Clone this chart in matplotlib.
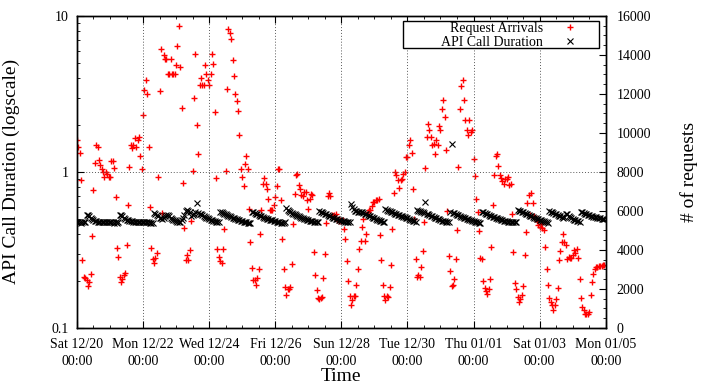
import pandas as pd
import matplotlib
matplotlib.use('Agg')
import matplotlib.pyplot as plt
import matplotlib.dates as mdates
from matplotlib.patches import Rectangle
from matplotlib.ticker import FixedLocator, MultipleLocator, LogLocator, NullFormatter

plt.rcParams['font.family'] = ['Liberation Serif', 'DejaVu Serif']

# hourly request arrivals, one list per day (Sat 12/20 ... Sun 01/04)
req_d00 = [9640, 9280, 8970, 7590, 3490, 2620, 2560, 2460, 2150, 2360, 2770, 4740, 7080, 8460, 9380, 9280, 8630, 8380, 8170, 8000, 7740, 8000, 7900, 7740]
req_d01 = [7740, 8580, 8560, 8190, 6730, 4100, 3660, 2620, 2370, 2490, 2720, 2820, 4260, 6310, 8270, 9380, 9230, 9380, 9740, 9280, 9640, 9790, 8840, 8140]
req_d02 = [10920, 12200, 12720, 12000, 9280, 6200, 4100, 3510, 3310, 3590, 3860, 7740, 12170, 14300, 5900, 14000, 13800, 13800, 13030, 13030, 13780, 13030, 13030, 13030]
req_d03 = [13490, 14460, 15490, 13400, 11280, 7430, 5140, 3490, 3740, 3500, 4000, 5470, 8070, 11810, 14050, 10390, 8940, 12440, 12800, 12460, 12460, 13470, 13030, 12700]
req_d04 = [12480, 13030, 14050, 13550, 11080, 7710, 4050, 3660, 3440, 3330, 4050, 5080, 8040, 12270, 15320, 15100, 14800, 13760, 12910, 12000, 11630, 11150, 9910, 8170]
req_d05 = [7740, 7280, 8430, 8820, 8170, 6120, 4410, 3050, 2460, 2460, 2200, 2560, 3040, 4840, 6040, 7400, 7690, 7400, 7140, 6600, 6040, 6040, 6040, 6320]
req_d06 = [6720, 7280, 8170, 8170, 6550, 4580, 3010, 2100, 1680, 1980, 1980, 2120, 3300, 5350, 6890, 7830, 7910, 7330, 7140, 6840, 6770, 6970, 6970, 6550]
req_d07 = [6120, 6600, 6890, 6800, 3900, 2700, 1930, 1540, 1480, 1540, 1600, 2560, 3780, 5400, 6770, 6900, 6770, 5800, 5760, 5800, 5850, 5540, 5490, 5540]
req_d08 = [5490, 5540, 5090, 4550, 3420, 2410, 1640, 1190, 1430, 1640, 1640, 2220, 3010, 4070, 4450, 5180, 5610, 4450, 4840, 5950, 6050, 6050, 6260, 6460]
req_d09 = [6460, 6560, 6560, 6600, 4790, 3470, 2190, 1640, 1430, 1640, 1600, 2100, 3220, 5060, 6920, 8000, 7830, 7570, 7180, 7590, 7660, 7910, 8000, 8770]
req_d10 = [8770, 9370, 9660, 8970, 7140, 5610, 3520, 2620, 2700, 2620, 3130, 3930, 5440, 8200, 9800, 10480, 10140, 9800, 9370, 9450, 8940, 9630, 9370, 10360]
req_d11 = [10140, 11210, 11680, 10820, 9110, 5980, 3690, 2910, 2150, 2220, 2530, 3550, 5010, 8260, 11250, 12410, 12700, 11680, 10650, 10140, 9880, 10650, 10050, 10140]
req_d12 = [8680, 7780, 6630, 5960, 4960, 3590, 3540, 2410, 2050, 1900, 1750, 2000, 2500, 4150, 6320, 7830, 8800, 8900, 8310, 7830, 7690, 7520, 7400, 7660]
req_d13 = [7660, 7740, 7320, 7400, 5860, 3880, 2300, 2000, 1600, 1330, 1470, 1710, 2150, 3730, 4920, 6430, 6840, 5780, 6910, 6430, 5740, 5610, 5470, 5260]
req_d14 = [5180, 5330, 5100, 5010, 4150, 3010, 2190, 1540, 1330, 1160, 910, 1160, 1470, 2050, 3470, 3930, 4410, 4840, 4410, 4240, 3550, 3640, 3590, 3590]
req_d15 = [3730, 3980, 3860, 4070, 3590, 2530, 1540, 1080, 900, 730, 730, 730, 820, 1680, 2360, 2790, 3040, 3130, 3130, 3180, 3180, 3180, 3250, 3250]

# hourly API call duration (s), one list per day
dur_d00 = [0.478, 0.476, 0.475, 0.474, 0.476, 0.475, 0.477, 0.533, 0.53, 0.52, 0.51, 0.50, 0.492, 0.486, 0.482, 0.48, 0.479, 0.478, 0.478, 0.477, 0.477, 0.476, 0.476, 0.475]
dur_d01 = [0.476, 0.475, 0.476, 0.474, 0.475, 0.474, 0.476, 0.53, 0.527, 0.52, 0.51, 0.50, 0.495, 0.49, 0.485, 0.483, 0.482, 0.481, 0.48, 0.48, 0.479, 0.478, 0.478, 0.477]
dur_d02 = [0.477, 0.476, 0.476, 0.475, 0.475, 0.474, 0.474, 0.473, 0.545, 0.54, 0.53, 0.52, 0.51, 0.505, 0.50, 0.51, 0.52, 0.53, 0.53, 0.52, 0.51, 0.50, 0.495, 0.49]
dur_d03 = [0.485, 0.48, 0.478, 0.48, 0.49, 0.51, 0.53, 0.565, 0.57, 0.565, 0.55, 0.52, 0.53, 0.54, 0.55, 0.63, 0.545, 0.54, 0.535, 0.53, 0.52, 0.515, 0.51, 0.505]
dur_d04 = [0.50, 0.495, 0.49, 0.487, 0.483, 0.48, 0.477, 0.476, 0.553, 0.55, 0.545, 0.54, 0.535, 0.53, 0.525, 0.52, 0.515, 0.51, 0.505, 0.50, 0.497, 0.494, 0.49, 0.487]
dur_d05 = [0.484, 0.481, 0.478, 0.476, 0.474, 0.473, 0.472, 0.553, 0.55, 0.545, 0.54, 0.535, 0.53, 0.525, 0.52, 0.515, 0.51, 0.506, 0.502, 0.498, 0.495, 0.492, 0.489, 0.486]
dur_d06 = [0.483, 0.48, 0.478, 0.476, 0.474, 0.473, 0.472, 0.48, 0.59, 0.57, 0.56, 0.55, 0.545, 0.54, 0.535, 0.53, 0.525, 0.52, 0.515, 0.51, 0.505, 0.50, 0.497, 0.494]
dur_d07 = [0.491, 0.488, 0.485, 0.482, 0.48, 0.478, 0.477, 0.476, 0.56, 0.556, 0.55, 0.545, 0.54, 0.535, 0.53, 0.525, 0.52, 0.515, 0.51, 0.506, 0.502, 0.498, 0.494, 0.49]
dur_d08 = [0.487, 0.484, 0.482, 0.48, 0.478, 0.477, 0.476, 0.62, 0.60, 0.575, 0.565, 0.56, 0.555, 0.55, 0.555, 0.55, 0.545, 0.54, 0.535, 0.53, 0.525, 0.52, 0.515, 0.51]
dur_d09 = [0.505, 0.50, 0.495, 0.49, 0.486, 0.482, 0.479, 0.477, 0.577, 0.57, 0.565, 0.56, 0.555, 0.55, 0.545, 0.54, 0.535, 0.53, 0.527, 0.524, 0.52, 0.517, 0.514, 0.51]
dur_d10 = [0.505, 0.50, 0.495, 0.49, 0.486, 0.482, 0.479, 0.569, 0.565, 0.56, 0.555, 0.55, 0.545, 0.64, 0.54, 0.535, 0.53, 0.525, 0.52, 0.515, 0.51, 0.505, 0.50, 0.496]
dur_d11 = [0.492, 0.488, 0.485, 0.482, 0.48, 0.477, 0.476, 0.553, 1.5, 0.548, 0.543, 0.538, 0.533, 0.528, 0.523, 0.518, 0.514, 0.51, 0.506, 0.502, 0.498, 0.494, 0.49, 0.487]
dur_d12 = [0.484, 0.481, 0.478, 0.476, 0.474, 0.473, 0.553, 0.55, 0.545, 0.54, 0.535, 0.53, 0.525, 0.52, 0.516, 0.512, 0.508, 0.504, 0.50, 0.497, 0.494, 0.491, 0.488, 0.485]
dur_d13 = [0.483, 0.481, 0.479, 0.478, 0.477, 0.476, 0.475, 0.476, 0.569, 0.565, 0.56, 0.555, 0.55, 0.545, 0.54, 0.535, 0.53, 0.525, 0.52, 0.515, 0.51, 0.506, 0.502, 0.498]
dur_d14 = [0.494, 0.49, 0.487, 0.484, 0.481, 0.478, 0.473, 0.56, 0.555, 0.55, 0.545, 0.54, 0.535, 0.53, 0.525, 0.52, 0.515, 0.51, 0.515, 0.54, 0.535, 0.525, 0.515, 0.505]
dur_d15 = [0.50, 0.495, 0.49, 0.486, 0.482, 0.478, 0.553, 0.55, 0.545, 0.54, 0.535, 0.53, 0.528, 0.525, 0.52, 0.517, 0.514, 0.511, 0.508, 0.505, 0.503, 0.50, 0.50, 0.498]

start = pd.Timestamp('2014-12-20 00:00')
end = pd.Timestamp('2015-01-05 00:00')

requests = (req_d00 + req_d01 + req_d02 + req_d03 + req_d04 + req_d05 + req_d06 + req_d07 +
            req_d08 + req_d09 + req_d10 + req_d11 + req_d12 + req_d13 + req_d14 + req_d15)
duration = (dur_d00 + dur_d01 + dur_d02 + dur_d03 + dur_d04 + dur_d05 + dur_d06 + dur_d07 +
            dur_d08 + dur_d09 + dur_d10 + dur_d11 + dur_d12 + dur_d13 + dur_d14 + dur_d15)
t_req = pd.date_range(start, periods=len(requests), freq='h')
t_dur = pd.date_range(start, periods=len(duration), freq='h')

fig = plt.figure(figsize=(7.06, 3.84), dpi=100)
ax = fig.add_axes([0.109, 0.146, 0.749, 0.8125])
ax2 = ax.twinx()

ax2.plot(t_req, requests, '+', color='red', ms=5, mew=1.0, label='Request Arrivals')
ax.plot(t_dur, duration, 'x', color='black', ms=4, mew=0.8, label='API Call Duration')
ax.set_zorder(ax2.get_zorder() + 1)
ax.patch.set_visible(False)

ax.set_yscale('log')
ax.set_ylim(0.1, 10)
ax2.set_ylim(0, 16000)
ax.set_xlim(start, end)

ax.xaxis.set_major_locator(FixedLocator(mdates.date2num(pd.date_range(start, end, freq='2D'))))
ax.xaxis.set_minor_locator(FixedLocator(mdates.date2num(pd.date_range(start, end, freq='12h'))))
ax.xaxis.set_major_formatter(mdates.DateFormatter('%a %m/%d\n%H:%M'))
ax.set_yticks([0.1, 1, 10])
ax.set_yticklabels(['0.1', '1', '10'])
ax.yaxis.set_minor_locator(LogLocator(base=10, subs=range(2, 10)))
ax.yaxis.set_minor_formatter(NullFormatter())
ax2.yaxis.set_major_locator(MultipleLocator(2000))
ax2.yaxis.set_minor_locator(MultipleLocator(500))

ax.tick_params(axis='x', which='both', direction='in', top=True, bottom=True, labelsize=10, pad=7)
ax.tick_params(axis='y', which='both', direction='in', left=True, right=False, labelsize=10, pad=6)
ax.tick_params(which='major', length=5)
ax.tick_params(which='minor', length=2.5)
ax2.tick_params(axis='y', which='both', direction='in', labelsize=10, pad=8)
ax2.tick_params(which='major', length=5)
ax2.tick_params(which='minor', length=2.5)
for lab in ax.get_xticklabels():
    lab.set_horizontalalignment('center')
    lab.set_linespacing(1.4)

ax.grid(True, which='major', axis='both', ls=(0, (1, 2)), color='0.35', lw=0.7)

for a in (ax, ax2):
    for s in a.spines.values():
        s.set_linewidth(1.0)
        s.set_color('black')

ax.set_ylabel('API Call Duration (logscale)', fontsize=14)
ax2.set_ylabel('# of requests', fontsize=14)
ax.set_xlabel('Time', fontsize=14)
ax.yaxis.set_label_coords(-0.108, 0.5)
ax2.yaxis.set_label_coords(1.14, 0.5)
ax.xaxis.set_label_coords(0.5, -0.13)

# gnuplot-style key box
ax.add_patch(Rectangle((0.616, 0.897), 0.371, 0.087, transform=ax.transAxes,
                       facecolor='white', edgecolor='black', lw=1.0, zorder=4.5))
h1, l1 = ax2.get_legend_handles_labels()
h2, l2 = ax.get_legend_handles_labels()
leg = ax.legend(h1 + h2, l1 + l2, loc='upper right', bbox_to_anchor=(0.945, 0.98),
                markerfirst=False, frameon=False, fontsize=10, borderpad=0,
                labelspacing=0.05, handlelength=1.0, handletextpad=1.4, borderaxespad=0)
leg.set_zorder(5)

fig.savefig('out.png', dpi=100)
